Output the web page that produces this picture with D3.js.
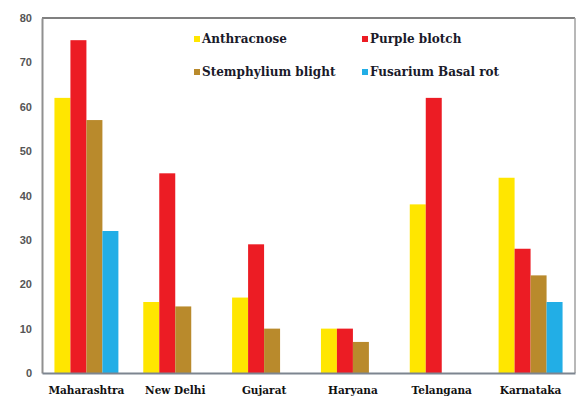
<!DOCTYPE html>
<html>
<head>
<meta charset="utf-8">
<script src="https://cdn.jsdelivr.net/npm/d3@7/dist/d3.min.js"></script>
<style>
html,body{margin:0;padding:0;background:#fff;}
svg{display:block;}
</style>
</head>
<body>
<svg id="chart" width="577" height="419"></svg>
<script>
const categories = ["Maharashtra","New Delhi","Gujarat","Haryana","Telangana","Karnataka"];
const seriesNames = ["Anthracnose","Purple blotch","Stemphylium blight","Fusarium Basal rot"];
const anthracnose = [62,16,17,10,38,44];
const purpleBlotch = [75,45,29,10,62,28];
const stemphylium = [57,15,10,7,0,22];
const fusarium = [32,0,0,0,0,16];
const yTicks = [0,10,20,30,40,50,60,70,80];
const colors = ["#FFE600","#EC1C24","#B98A2C","#22AEE6"];

const seriesValues = [anthracnose, purpleBlotch, stemphylium, fusarium];
const svg = d3.select("#chart");
const m = {left:42, right:2, top:18, bottom:46};
const W = 577, H = 419;
const x0 = d3.scaleBand().domain(categories).range([m.left, W-m.right]).paddingInner(0.28).paddingOuter(0.14);
const x1 = d3.scaleBand().domain(seriesNames).range([0, x0.bandwidth()]);
const y = d3.scaleLinear().domain([0,80]).range([H-m.bottom, m.top]);

// frame
svg.append("line").attr("x1",m.left).attr("x2",W-m.right).attr("y1",m.top).attr("y2",m.top).attr("stroke","#808080").attr("stroke-width",2);
svg.append("line").attr("x1",W-m.right).attr("x2",W-m.right).attr("y1",m.top).attr("y2",y(0)).attr("stroke","#a0a0a0").attr("stroke-width",1.5);

const data = [];
categories.forEach((c,i)=>seriesNames.forEach((s,j)=>{ if(seriesValues[j][i]>0) data.push({c,s,v:seriesValues[j][i],j}); }));
svg.append("g").selectAll("rect").data(data).join("rect")
  .attr("x",d=>x0(d.c)+x1(d.s)).attr("width",x1.bandwidth())
  .attr("y",d=>y(d.v)).attr("height",d=>y(0)-y(d.v))
  .attr("fill",d=>colors[d.j]);

// y axis
const ya = svg.append("g").attr("transform",`translate(${m.left},0)`)
  .call(d3.axisLeft(y).tickValues(yTicks).tickSize(0).tickPadding(10));
ya.select(".domain").attr("stroke","#909090").attr("stroke-width",2);
ya.selectAll("text").attr("font-family","Liberation Sans, Arial, sans-serif").attr("font-size",11).attr("font-weight","bold").attr("fill","#555");

// x axis
const xa = svg.append("g").attr("transform",`translate(0,${y(0)})`)
  .call(d3.axisBottom(x0).tickSize(0).tickPadding(14));
xa.select(".domain").attr("stroke","#7d8590").attr("stroke-width",2);
xa.selectAll("text").attr("font-family","DejaVu Serif, serif").attr("font-size",10.5).attr("font-weight","bold").attr("fill","#111");

// legend
const legPos = [[194,39],[362,39],[194,72],[362,72]];
const leg = svg.append("g").selectAll("g").data(seriesNames).join("g")
  .attr("transform",(d,i)=>`translate(${legPos[i][0]},${legPos[i][1]})`);
leg.append("rect").attr("x",0).attr("y",-3).attr("width",6).attr("height",6).attr("fill",(d,i)=>colors[i]);
leg.append("text").attr("x",8).attr("y",0).attr("dy","0.35em").text(d=>d)
  .attr("font-family","DejaVu Serif, serif").attr("font-size",12).attr("font-weight","bold").attr("fill","#1a1a2a");
</script>
</body>
</html>
